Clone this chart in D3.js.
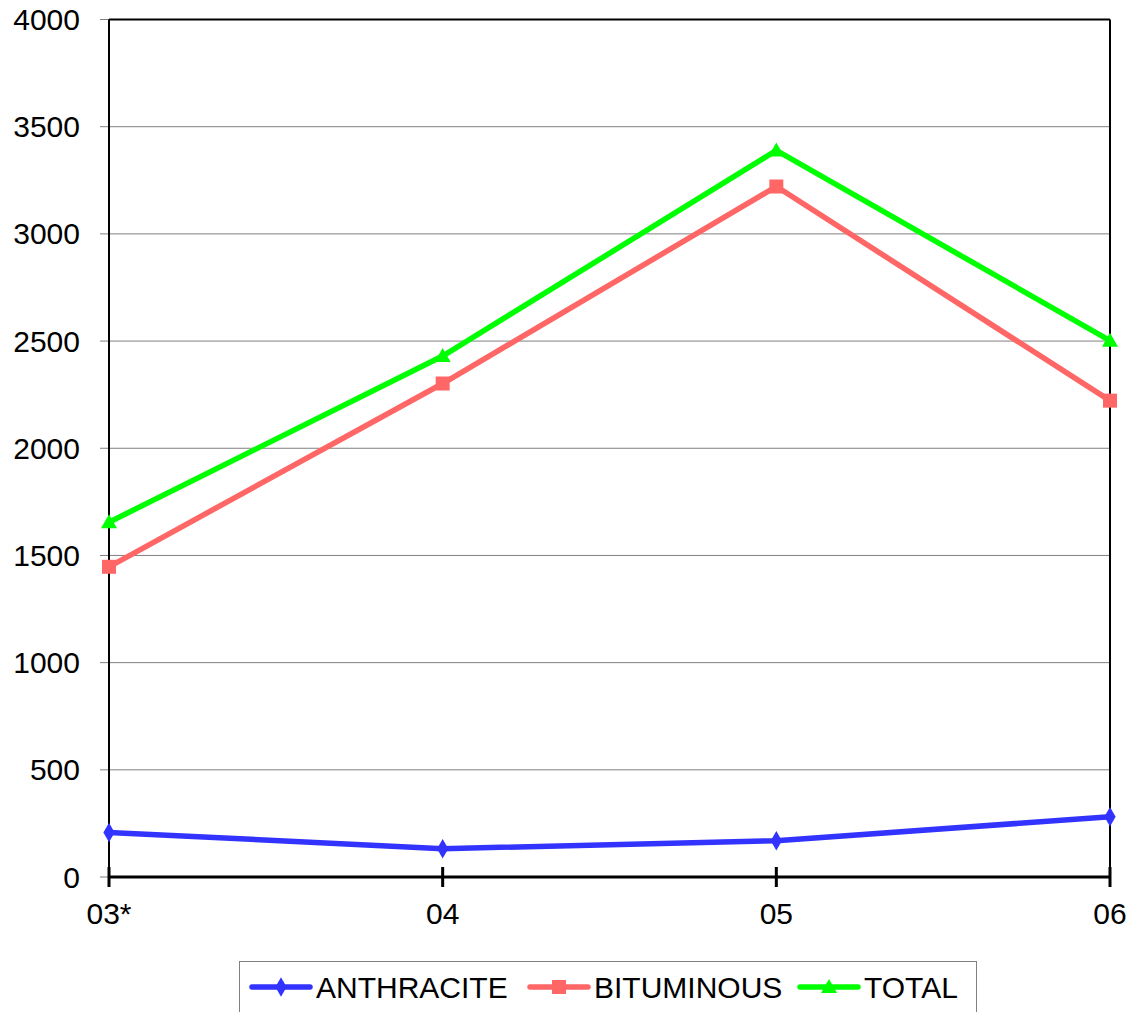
<!DOCTYPE html>
<html><head><meta charset="utf-8">
<script src="https://cdn.jsdelivr.net/npm/d3@7"></script>
<style>body{margin:0;background:#fff}svg{display:block}text{font-family:"Liberation Sans",Arial,sans-serif;fill:#000}</style>
</head><body>
<svg id="c" width="1135" height="1012"></svg>
<script>
const categories = ["03*", "04", "05", "06"];
const anthracite = [208, 132, 169, 281];
const bituminous = [1447, 2302, 3221, 2222];
const total = [1655, 2430, 3389, 2502];
const yTicks = [0, 500, 1000, 1500, 2000, 2500, 3000, 3500, 4000];
const seriesNames = ["ANTHRACITE", "BITUMINOUS", "TOTAL"];

const series = [
  {name: seriesNames[0], values: anthracite, color: "#3333ff", marker: "diamond"},
  {name: seriesNames[1], values: bituminous, color: "#ff6666", marker: "square"},
  {name: seriesNames[2], values: total, color: "#00ff00", marker: "triangle"}
];

const svg = d3.select("#c");
const L = 109, R = 1110, T = 19.5, B = 877;
const x = d3.scalePoint().domain(categories).range([L, R]);
const y = d3.scaleLinear().domain([0, 4000]).range([B, T]);

svg.append("g").selectAll("line").data(yTicks).join("line")
  .attr("x1", L - 9).attr("x2", R).attr("y1", d => y(d)).attr("y2", d => y(d))
  .attr("stroke", "#808080").attr("stroke-width", 1);

svg.append("g").selectAll("text").data(yTicks).join("text")
  .attr("x", 80).attr("y", d => y(d) + 10.5)
  .attr("text-anchor", "end").attr("font-size", 30)
  .text(d => d);

svg.append("line").attr("x1", L).attr("x2", R).attr("y1", T).attr("y2", T).attr("stroke", "#000").attr("stroke-width", 2);
svg.append("line").attr("x1", R).attr("x2", R).attr("y1", T).attr("y2", B).attr("stroke", "#000").attr("stroke-width", 2);
svg.append("line").attr("x1", L).attr("x2", L).attr("y1", T).attr("y2", B).attr("stroke", "#000").attr("stroke-width", 2);

svg.append("line").attr("x1", L).attr("x2", R).attr("y1", B).attr("y2", B).attr("stroke", "#000").attr("stroke-width", 3);
svg.append("g").selectAll("line").data(categories).join("line")
  .attr("x1", d => x(d)).attr("x2", d => x(d)).attr("y1", B - 10).attr("y2", B + 10)
  .attr("stroke", "#000").attr("stroke-width", 3);
svg.append("g").selectAll("text").data(categories).join("text")
  .attr("x", d => x(d)).attr("y", 924)
  .attr("text-anchor", "middle").attr("font-size", 30)
  .text(d => d);

function markerPath(type) {
  if (type === "diamond") return d3.symbol().type(d3.symbolDiamond).size(110)();
  if (type === "square") return "M-7,-7H7V7H-7Z";
  return "M0,-8L8,6H-8Z";
}

const line = d3.line().x((d, i) => x(categories[i])).y(d => y(d));
series.forEach(s => {
  svg.append("path").datum(s.values).attr("d", line)
    .attr("fill", "none").attr("stroke", s.color).attr("stroke-width", 5.5).attr("stroke-linejoin", "miter");
  svg.append("g").selectAll("path").data(s.values).join("path")
    .attr("transform", (d, i) => `translate(${x(categories[i])},${y(d)})`)
    .attr("d", markerPath(s.marker)).attr("fill", s.color);
});

svg.append("rect").attr("x", 239.5).attr("y", 961.5).attr("width", 737).attr("height", 60)
  .attr("fill", "#fff").attr("stroke", "#808080").attr("stroke-width", 1);
const lx = [252, 530, 800];
series.forEach((s, i) => {
  const g = svg.append("g");
  g.append("line").attr("x1", lx[i]).attr("x2", lx[i] + 58).attr("y1", 987).attr("y2", 987)
    .attr("stroke", s.color).attr("stroke-width", 5.5).attr("stroke-linecap", "round");
  g.append("path").attr("transform", `translate(${lx[i] + 29},987)`).attr("d", markerPath(s.marker)).attr("fill", s.color);
  g.append("text").attr("x", lx[i] + 64).attr("y", 998).attr("font-size", 30).text(s.name);
});
</script>
</body></html>
